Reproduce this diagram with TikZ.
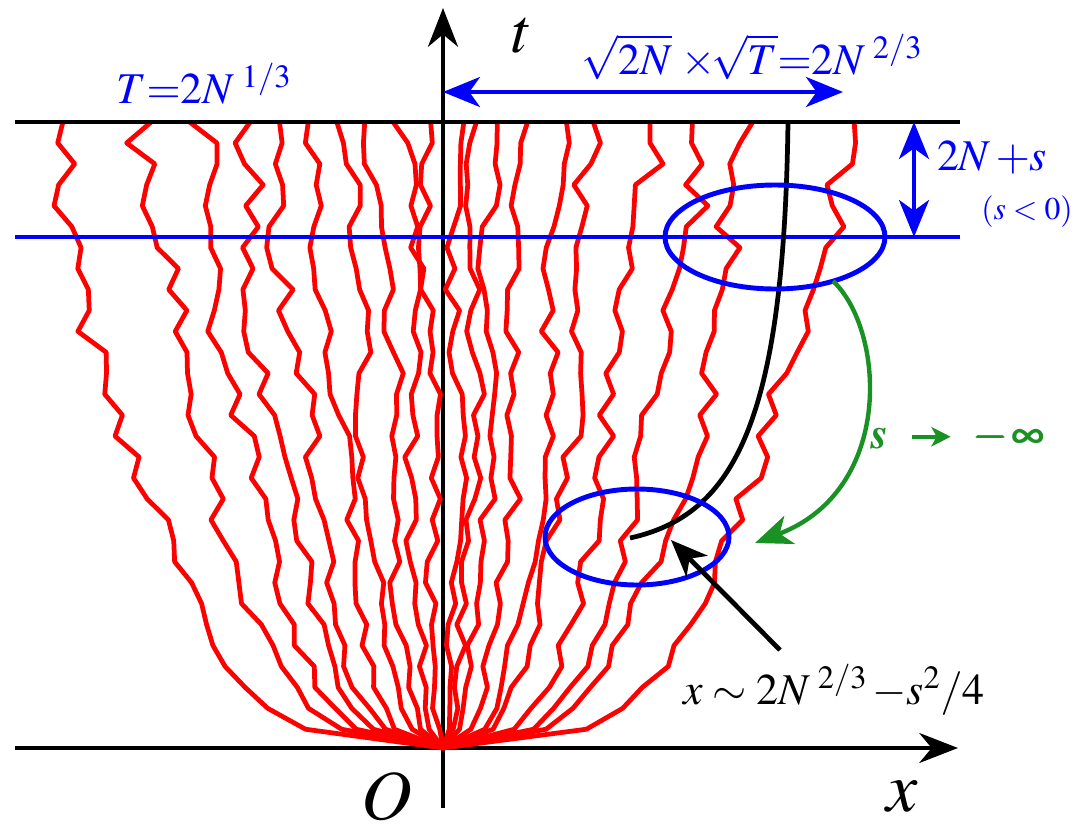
\documentclass[tikz,border=0pt]{standalone}
\usepackage[T1]{fontenc}
\usepackage{amsmath}
\usepackage{mathptmx}
\usetikzlibrary{arrows.meta}
\definecolor{limgreen}{RGB}{25,145,35}

\begin{document}
\begin{tikzpicture}[x=0.02cm,y=-0.02cm,
    axisline/.style={line width=2.8pt,-{Stealth[length=22pt,width=17pt,inset=7pt]}},
    walk/.style={red,line width=2.7pt,line join=round},
    bluearrow/.style={blue,line width=2.6pt,{Stealth[length=21pt,width=17pt,inset=6pt]}-{Stealth[length=21pt,width=17pt,inset=6pt]}},
    lbl/.style={inner sep=0pt,font=\fontsize{25}{30}\selectfont},
    axlbl/.style={inner sep=0pt,font=\fontsize{40}{46}\selectfont}]
    \useasboundingbox (0,0) rectangle (1080,832);

    \coordinate (O) at (443,748);
    \coordinate (tdown) at (443,808);
    \coordinate (ttip) at (443,8);
    \coordinate (xleft) at (15,748);
    \coordinate (xtip) at (958,748);

    \draw[axisline] (xleft) -- (xtip);
    \draw[axisline] (tdown) -- (ttip);

    % the walks
    \pgfmathsetseed{11}
    \foreach \d in {-391,-298,-245,-205,-169,-129,-95,-64,-36,-14,16,35,55,85,123,152,204,254,307,400}
      \draw[walk] (O) -- plot[domain=0.03:1,samples=30,variable=\u]
        ({443+(\d)*(\u)^0.3+(10+0.02*abs(\d))*rand*(\u)^0.4+8*sin(480*\u+37*\d)*(\u)^0.5},{748-626*\u});

    \coordinate (topL) at (15,122);
    \coordinate (topR) at (960,122);
    \coordinate (sL) at (15,237);
    \coordinate (sR) at (960,237);
    \draw[line width=2.8pt] (topL) -- (topR);
    \draw[blue,line width=2.8pt] (sL) -- (sR);

    % edge curve
    \coordinate (edgeTop) at (788,122);
    \coordinate (edgeEnd) at (630,538);
    \draw[line width=2.7pt] (edgeTop) .. controls (784,420) and (735,515) .. (edgeEnd);

    \draw[blue,line width=2.8pt] (775,237) ellipse [x radius=110,y radius=52];
    \draw[blue,line width=2.8pt] (637,537) ellipse [x radius=92,y radius=48];

    % arrows
    \coordinate (wL) at (443,92);
    \coordinate (wR) at (843,92);
    \draw[bluearrow] (wL) -- (wR);
    \coordinate (hT) at (914,122);
    \coordinate (hB) at (914,237);
    \draw[bluearrow] (hT) -- (hB);

    \coordinate (upRim) at (833,281);
    \coordinate (lowTgt) at (755,543);
    \draw[limgreen,line width=2.5pt,-{Stealth[length=21pt,width=17pt,inset=6pt]}] (upRim) .. controls (885,330) and (895,490) .. (lowTgt);

    \coordinate (ptrFoot) at (780,650);
    \coordinate (ptrTip) at (671,540);
    \draw[line width=2.7pt,-{Stealth[length=21pt,width=17pt,inset=6pt]}] (ptrFoot) -- (ptrTip);

    % labels
    \node[lbl,blue] (lblT) at (204,84) {$T{=}2N^{\;1/3}$};
    \node[lbl,blue] (lblW) at (752,57) {$\sqrt{2N}\;{\times}\!\sqrt{T}{=}2N^{\;2/3}$};
    \node[lbl,blue] (lblH) at (992,158) {$2N\,{+}s$};
    \node[blue,inner sep=0pt,font=\fontsize{18}{20}\selectfont] (lblNeg) at (1027,212) {$(s<0)$};
    \node[lbl,limgreen] (lblLim) at (958,437) {{\bfseries\itshape s}\enspace\tikz[baseline=-0.6ex]\draw[line width=2.2pt,-{Stealth[length=11pt,width=11pt,inset=3pt]}] (0pt,0pt) -- (22pt,0pt);\enspace$\pmb{-\,\infty}$};
    \node[lbl] (lblX) at (834,690) {$x\sim 2N^{\;2/3}\,{-}s^2/4$};

    \node[axlbl,font=\fontsize{36}{40}\selectfont] (tlbl) at (522,36) {$t$};
    \node[axlbl] (xlbl) at (902,797) {$x$};
    \node[axlbl] (Olbl) at (387,796) {$O$};
\end{tikzpicture}
\end{document}
